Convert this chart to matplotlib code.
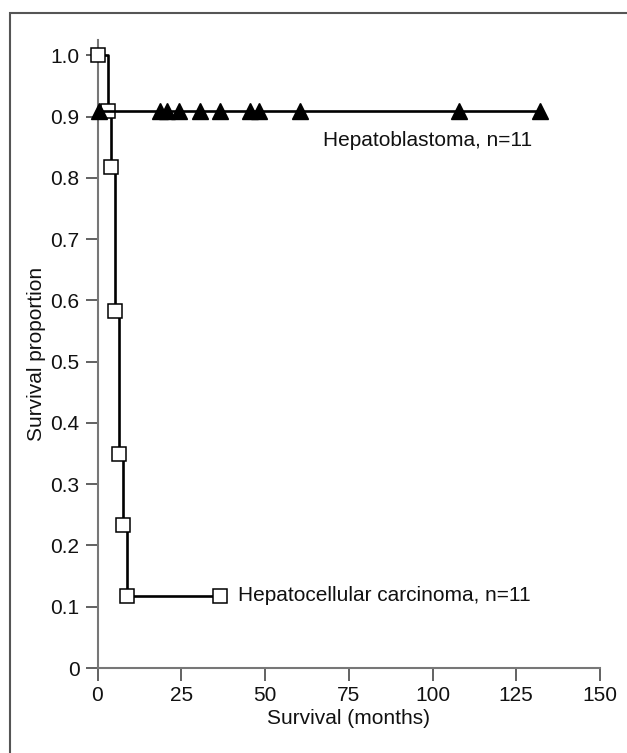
import matplotlib
matplotlib.use("Agg")
import matplotlib.pyplot as plt
from matplotlib.patches import Rectangle

# Data
hcc_time = [0.0, 3.0, 4.0, 5.3, 6.4, 7.5, 8.7, 36.6]
hcc_surv = [1.0, 0.909, 0.818, 0.583, 0.35, 0.233, 0.117, 0.117]
hb_time = [0.5, 18.7, 20.6, 24.4, 30.6, 36.6, 45.5, 48.3, 60.4, 108.0, 132.0]
hb_surv = [0.909] * 11
x_ticks = [0, 25, 50, 75, 100, 125, 150]
y_ticks = [0, 0.1, 0.2, 0.3, 0.4, 0.5, 0.6, 0.7, 0.8, 0.9, 1.0]
y_ticklabels = ["0", "0.1", "0.2", "0.3", "0.4", "0.5", "0.6", "0.7", "0.8", "0.9", "1.0"]

plt.rcParams['font.family'] = ['Liberation Sans', 'DejaVu Sans']
FS = 15

W, H = 627, 753
fig = plt.figure(figsize=(W / 100, H / 100), dpi=100)

# figure border
fig.patches.append(Rectangle((10 / W, -0.1), 1.2, 1.1 - 13 / H, transform=fig.transFigure,
                             fill=False, edgecolor='#555555', linewidth=1.5))

ax = fig.add_axes([97.5 / W, 1 - 668 / H, (600 - 97.5) / W, (668 - 40) / H])

ax.plot(hcc_time, hcc_surv, drawstyle='steps-post', color='black', lw=1.9, zorder=2)
ax.plot(hcc_time, hcc_surv, linestyle='none', marker='s', markersize=9.5,
        markerfacecolor='white', markeredgecolor='black', markeredgewidth=1.1, zorder=3)
ax.plot(hb_time, hb_surv, color='black', lw=1.9, zorder=4)
ax.plot(hb_time, hb_surv, linestyle='none', marker='^', markersize=12,
        markerfacecolor='black', markeredgecolor='black', zorder=5)

ax.text(67.3, 0.861, "Hepatoblastoma, n=11", fontsize=FS, va='center', ha='left', color='#111111')
ax.text(41.9, 0.119, "Hepatocellular carcinoma, n=11", fontsize=FS, va='center', ha='left', color='#111111')

ax.set_xlim(0, 150)
ax.set_ylim(0, 1.025)
ax.set_xticks(x_ticks)
ax.set_xticklabels([str(t) for t in x_ticks])
ax.set_yticks(y_ticks)
ax.set_yticklabels(y_ticklabels)

for s in ['top', 'right']:
    ax.spines[s].set_visible(False)
for s in ['left', 'bottom']:
    ax.spines[s].set_color('#777777')
    ax.spines[s].set_linewidth(1.5)
ax.tick_params(axis='both', colors='#555555', width=1.3, length=9, labelsize=FS,
               labelcolor='#111111', pad=4)

ax.set_xlabel("Survival (months)", fontsize=FS, color='#111111', labelpad=3)
ax.set_ylabel("Survival proportion", fontsize=FS, color='#111111', labelpad=3)

for line in ax.lines:
    line.set_clip_on(False)

fig.savefig("out.png", dpi=100)
